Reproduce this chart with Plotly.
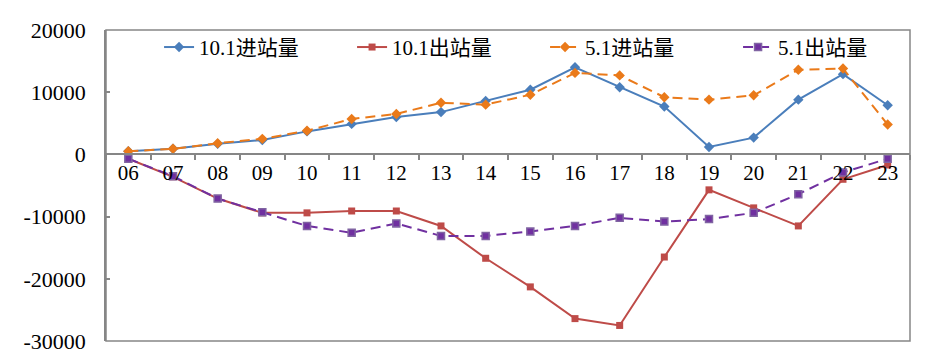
import plotly.graph_objects as go

categories = ["06","07","08","09","10","11","12","13","14","15","16","17","18","19","20","21","22","23"]
in_oct = [500, 900, 1700, 2300, 3700, 4900, 6000, 6800, 8600, 10400, 14000, 10800, 7700, 1200, 2700, 8800, 12900, 7900]
out_oct = [-700, -3600, -7100, -9400, -9400, -9100, -9100, -11500, -16700, -21300, -26400, -27500, -16500, -5700, -8600, -11500, -4000, -1700]
in_may = [500, 900, 1800, 2500, 3800, 5700, 6500, 8300, 8000, 9600, 13100, 12700, 9200, 8800, 9500, 13600, 13800, 4800]
out_may = [-700, -3500, -7100, -9300, -11500, -12600, -11100, -13100, -13100, -12400, -11500, -10200, -10800, -10400, -9400, -6400, -2900, -700]
yticks = [-30000, -20000, -10000, 0, 10000, 20000]

FONT = "Liberation Serif, Times New Roman, Noto Sans CJK SC, serif"
BLUE = "#4A7EBB"
RED = "#BE4B48"
ORANGE = "#EA7A1A"
PURPLE = "#7030A0"
GRID = "#868686"

fig = go.Figure()
fig.add_trace(go.Scatter(x=categories, y=in_oct, name="10.1进站量", mode="lines+markers",
                         line=dict(color=BLUE, width=2),
                         marker=dict(symbol="diamond", size=8, color=BLUE)))
fig.add_trace(go.Scatter(x=categories, y=out_oct, name="10.1出站量", mode="lines+markers",
                         line=dict(color=RED, width=2),
                         marker=dict(symbol="square", size=7, color=RED)))
fig.add_trace(go.Scatter(x=categories, y=in_may, name="5.1进站量", mode="lines+markers",
                         line=dict(color=ORANGE, width=2, dash="10px,6px"),
                         marker=dict(symbol="diamond", size=8, color=ORANGE)))
fig.add_trace(go.Scatter(x=categories, y=out_may, name="5.1出站量", mode="lines+markers",
                         line=dict(color=PURPLE, width=2, dash="10px,6px"),
                         marker=dict(symbol="square", size=7, color=PURPLE,
                                     line=dict(color="#8064A2", width=1.5))))

fig.update_layout(
    width=933, height=354,
    margin=dict(l=106, r=23, t=30, b=13, autoexpand=False),
    paper_bgcolor="white", plot_bgcolor="white",
    font=dict(family=FONT, size=21, color="black"),
    showlegend=True,
    legend=dict(orientation="h", x=0.066, y=1.01, xanchor="left", yanchor="top",
                bgcolor="rgba(0,0,0,0)", font=dict(family=FONT, size=21),
                entrywidth=148, tracegroupgap=0),
    xaxis=dict(type="category", categoryorder="array", categoryarray=categories,
               range=[-0.5, 17.5], anchor="free", position=0.6, automargin=False,
               showline=True, linecolor=GRID, linewidth=1.5,
               ticks="outside", ticklen=5, tickcolor=GRID, tickwidth=1.5,
               tickson="boundaries", showgrid=False, zeroline=False,
               tickfont=dict(family=FONT, size=21)),
    yaxis=dict(range=[-30000, 20000], tickvals=yticks, ticktext=[str(v) for v in yticks],
               automargin=False,
               showline=True, linecolor=GRID, linewidth=1.5,
               ticks="inside", ticklen=4, tickcolor=GRID, tickwidth=1.5,
               showgrid=False, zeroline=False, ticklabelstandoff=14,
               tickfont=dict(family=FONT, size=22)),
    shapes=[dict(type="rect", xref="paper", yref="paper", x0=0, x1=1, y0=0, y1=1,
                 line=dict(color=GRID, width=1.5), layer="below")],
)

fig.write_html("out.html")
